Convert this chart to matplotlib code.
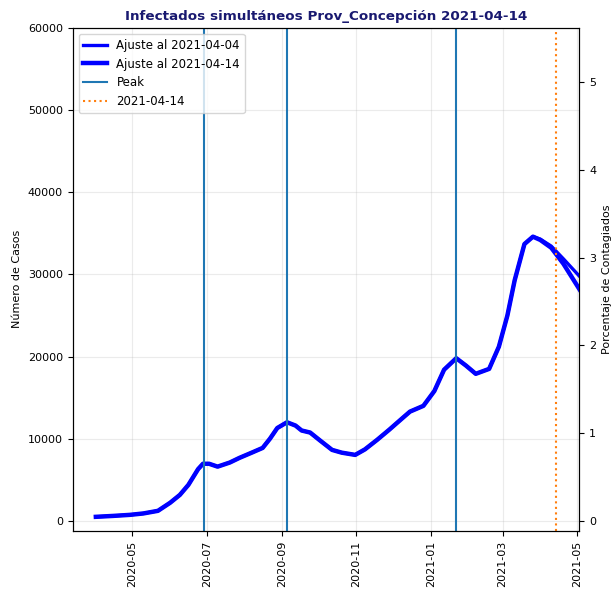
import matplotlib
matplotlib.use("Agg")
import matplotlib.pyplot as plt
import pandas as pd

# curva comun a los dos ajustes
fechas_base = ["2020-04-01", "2020-04-15", "2020-04-29", "2020-05-10", "2020-05-22",
               "2020-06-01", "2020-06-09", "2020-06-16", "2020-06-24", "2020-06-28",
               "2020-07-03", "2020-07-10", "2020-07-20", "2020-07-28", "2020-08-07",
               "2020-08-16", "2020-08-22", "2020-08-28", "2020-09-05", "2020-09-12",
               "2020-09-17", "2020-09-24", "2020-10-02", "2020-10-12", "2020-10-20",
               "2020-10-31", "2020-11-08", "2020-11-18", "2020-11-28", "2020-12-08",
               "2020-12-15", "2020-12-26", "2021-01-04", "2021-01-12", "2021-01-22",
               "2021-01-30", "2021-02-07", "2021-02-18", "2021-02-26", "2021-03-05",
               "2021-03-11", "2021-03-19", "2021-03-26"]
casos_base = [490, 600, 730, 900, 1220,
              2200, 3160, 4380, 6300, 6950,
              6950, 6600, 7100, 7670, 8300,
              8880, 10000, 11300, 12000, 11600,
              11000, 10750, 9800, 8640, 8300,
              8030, 8700, 9860, 11100, 12400,
              13300, 14000, 15800, 18400, 19800,
              18900, 17900, 18500, 21200, 25000,
              29300, 33700, 34600]

# colas de cada ajuste
fechas_cola = ["2021-04-01", "2021-04-10", "2021-04-20", "2021-05-04"]
cola_0404 = [34300, 33450, 31900, 29650]
cola_0414 = [34200, 33250, 31300, 28000]

peaks = ["2020-06-29", "2020-09-05", "2021-01-22"]
fecha_actual = "2021-04-14"
poblacion = 1067800

x04 = pd.to_datetime(fechas_base + fechas_cola)
y04 = casos_base + cola_0404
y14 = casos_base + cola_0414

fig = plt.figure(figsize=(6.11, 5.9), dpi=100)
ax = fig.add_axes([0.119, 0.1005, 0.829, 0.852])

ax.plot(x04, y04, color="blue", lw=2.4, label="Ajuste al 2021-04-04")
ax.plot(x04, y14, color="blue", lw=3.2, label="Ajuste al 2021-04-14")
for i, p in enumerate(peaks):
    ax.axvline(pd.Timestamp(p), color="tab:blue", lw=1.5, label="Peak" if i == 0 else None)
ax.axvline(pd.Timestamp(fecha_actual), color="tab:orange", ls=":", lw=1.5, label=fecha_actual)

ax.set_xlim(pd.Timestamp("2020-03-13"), pd.Timestamp("2021-05-03"))
ax.set_ylim(-1200, 60000)
ax.grid(alpha=0.25)
ax.set_ylabel("Número de Casos", fontsize=8)
ax.tick_params(labelsize=8)
ax.tick_params(axis="x", rotation=90)
ax.legend(loc="upper left", fontsize=8.5)
ax.set_title("Infectados simultáneos Prov_Concepción 2021-04-14",
             fontweight="bold", color="midnightblue", fontsize=9.7)

ax2 = ax.twinx()
lo, hi = ax.get_ylim()
ax2.set_ylim(lo / poblacion * 100, hi / poblacion * 100)
ax2.set_ylabel("Porcentaje de Contagiados", fontsize=8)
ax2.tick_params(labelsize=8)

fig.savefig("out.png", dpi=100)
